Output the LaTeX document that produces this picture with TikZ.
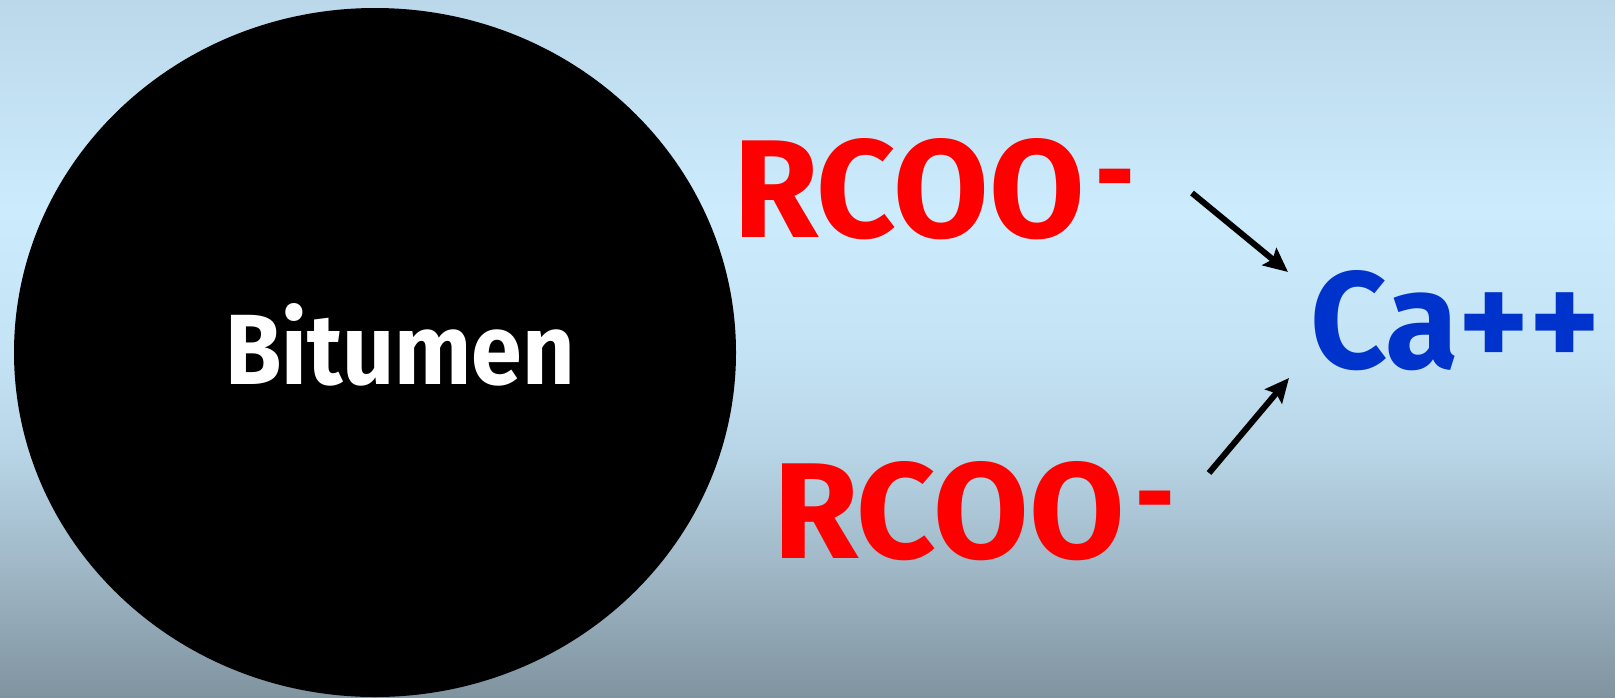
\documentclass[tikz,border=0pt]{standalone}
\usepackage{fontspec}
\usepackage{graphicx}
\setmainfont{Fira Sans}
\usetikzlibrary{shapes.geometric,arrows.meta}
\definecolor{bgA}{RGB}{186,216,234}
\definecolor{bgB}{RGB}{204,235,252}
\definecolor{bgC}{RGB}{196,227,244}
\definecolor{bgD}{RGB}{183,213,230}
\definecolor{bgE}{RGB}{162,186,201}
\definecolor{bgF}{RGB}{128,148,160}
\definecolor{ionred}{RGB}{255,0,0}
\definecolor{ionblue}{RGB}{0,51,204}
\pgfdeclareverticalshading{bgshade}{100bp}{
  color(0bp)=(bgF); color(25bp)=(bgF); color(35bp)=(bgE); color(42.5bp)=(bgD);
  color(50bp)=(bgC); color(60bp)=(bgB); color(75bp)=(bgA); color(100bp)=(bgA)}
\newcommand{\minusmark}{\hspace{0.08em}\raisebox{0.17em}{\scalebox{0.7}[0.85]{-}}}
\tikzset{
  lbl/.style={inner sep=0pt, outer sep=0pt, anchor=north west, font=\bfseries},
  arr/.style={line width=3pt, -{Stealth[length=12pt,width=11pt,inset=2pt]}, black}
}
\begin{document}
\begin{tikzpicture}[x=0.5pt,y=-0.5pt]
  \shade[shading=bgshade] (0,0) rectangle (1615,697);
  \useasboundingbox (0,0) rectangle (1615,697);
  \node[ellipse, fill=black, inner sep=0pt, minimum width=361pt, minimum height=344.5pt] (bit) at (375,352.5) {};
  \node[lbl, text=white] (bt) at (225,303) {\resizebox{175pt}{40.5pt}{Bitumen}};
  \node[lbl, text=ionred] (r1) at (733,138) {\resizebox{201pt}{49.5pt}{RCOO\minusmark}};
  \node[lbl, text=ionred] (r2) at (773,461) {\resizebox{201pt}{48.5pt}{RCOO\minusmark}};
  \node[lbl, text=ionblue] (ca) at (1310,270) {\resizebox{145pt}{49pt}{Ca++}};
  \coordinate (a1s) at (1192,193);
  \coordinate (a1e) at (1288,272);
  \coordinate (a2s) at (1209,473);
  \coordinate (a2e) at (1289,378);
  \draw[arr] (a1s) -- (a1e);
  \draw[arr] (a2s) -- (a2e);
\end{tikzpicture}
\end{document}
